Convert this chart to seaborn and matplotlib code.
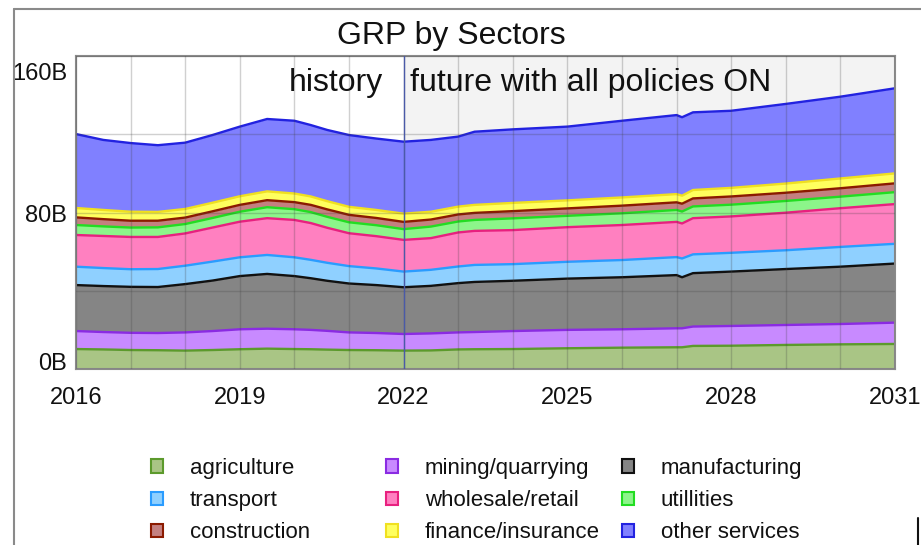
import matplotlib
matplotlib.use('Agg')
import matplotlib.pyplot as plt
import seaborn as sns
import numpy as np
import pandas as pd
from matplotlib.patches import Patch
from matplotlib.lines import Line2D
from matplotlib.transforms import ScaledTranslation
from matplotlib import font_manager

# ---------------- data (billions) ----------------
years = [2016, 2016.5, 2017, 2017.5, 2018, 2018.5, 2019, 2019.5, 2020, 2020.3, 2020.6,
         2021, 2021.5, 2022, 2022.5, 2023, 2023.3, 2024, 2025, 2026, 2027, 2027.1,
         2027.3, 2028, 2029, 2030, 2031]

agriculture = [10.2, 10.0, 9.7, 9.6, 9.4, 9.7, 10.1, 10.4, 10.2, 10.1, 9.9, 9.7, 9.6, 9.4,
               9.5, 10.0, 10.1, 10.2, 10.6, 10.9, 11.1, 11.1, 11.8, 11.9, 12.3, 12.6, 12.8]
mining = [9.2, 8.9, 8.8, 8.8, 9.3, 9.7, 10.2, 10.2, 10.1, 9.9, 9.6, 9.0, 8.8, 8.5,
          8.7, 8.7, 8.8, 9.2, 9.4, 9.4, 9.7, 9.7, 9.9, 10.1, 10.2, 10.4, 10.9]
manufacturing = [23.5, 23.5, 23.5, 23.5, 24.7, 25.8, 27.2, 28.0, 27.2, 26.4, 25.6, 25.0, 24.5,
                 23.9, 24.3, 25.2, 25.6, 25.7, 26.2, 26.6, 27.2, 26.1, 27.3, 27.8, 28.6, 29.3, 30.2]
transport = [9.4, 9.2, 9.0, 9.2, 9.4, 9.7, 9.6, 9.7, 9.6, 9.4, 9.2, 8.9, 8.5, 8.0,
             8.2, 8.5, 8.7, 8.5, 8.6, 8.8, 9.2, 9.6, 9.6, 9.6, 9.6, 10.1, 10.1]
wholesale = [16.2, 16.4, 16.5, 16.4, 16.5, 17.4, 18.2, 18.8, 19.1, 18.8, 17.9, 16.8, 16.5, 16.2,
             16.2, 17.4, 17.4, 17.4, 17.7, 17.9, 18.0, 17.9, 18.5, 18.6, 19.2, 19.8, 20.3]
utilities = [5.1, 4.9, 4.8, 4.9, 4.8, 4.9, 5.1, 5.6, 5.5, 5.6, 5.6, 5.6, 5.6, 5.5,
             5.9, 5.6, 5.6, 6.0, 5.8, 6.0, 6.1, 6.1, 6.0, 6.0, 6.0, 5.9, 6.1]
construction = [3.9, 3.7, 3.5, 3.4, 3.3, 3.4, 3.5, 3.6, 3.6, 3.7, 3.8, 3.8, 3.7, 3.7,
                3.6, 3.6, 3.6, 3.7, 3.8, 3.9, 3.9, 4.0, 4.1, 4.2, 4.2, 4.3, 4.5]
finance = [4.8, 4.7, 4.6, 4.5, 4.4, 4.4, 4.4, 4.5, 4.4, 4.3, 4.2, 4.1, 4.1, 4.2,
           4.0, 4.0, 4.1, 4.2, 4.1, 4.2, 4.2, 4.1, 4.3, 4.4, 4.7, 5.0, 5.1]
other_services = [37.8, 35.8, 35.1, 34.1, 33.9, 34.6, 35.6, 37.0, 37.2, 36.5, 36.4, 36.7, 36.5,
                  36.8, 36.7, 35.8, 37.4, 37.6, 37.7, 39.2, 40.4, 40.1, 39.7, 39.4, 40.7, 41.8, 43.5]

sector_names = ['agriculture', 'mining/quarrying', 'manufacturing', 'transport',
                'wholesale/retail', 'utillities', 'construction', 'finance/insurance',
                'other services']
series = [agriculture, mining, manufacturing, transport, wholesale, utilities,
          construction, finance, other_services]
fill_colors = ['#a9c585', '#c88aff', '#858585', '#8fd0ff', '#ff80c0', '#8cf58a',
               '#c48080', '#ffff5e', '#8080ff']
edge_colors = ['#5c9a2c', '#8a2be2', '#111111', '#2a9cff', '#e8207f', '#22dd22',
               '#8b1a00', '#f0e020', '#2222e0']

x_tick_years = [2016, 2019, 2022, 2025, 2028, 2031]
y_tick_values = [0, 40, 80, 120, 160]
y_tick_labels = ['0B', '', '80B', '', '160B']

# ---------------- fonts ----------------
def pick(names):
    for n in names:
        try:
            font_manager.findfont(font_manager.FontProperties(family=n), fallback_to_default=False)
            return n
        except Exception:
            pass
    return 'DejaVu Sans'

sns.set_theme(style='white')
REG = pick(['Liberation Sans', 'Arial', 'DejaVu Sans'])
plt.rcParams['font.family'] = [REG, 'DejaVu Sans']

W, H = 921, 545
fig = plt.figure(figsize=(W / 100, H / 100), dpi=100)
ax = fig.add_axes([76 / W, 1 - 369 / H, (895 - 76) / W, (369 - 56) / H])

# future background
ax.axvspan(2022, 2031, color='#f3f3f3', zorder=0, lw=0)

df = pd.DataFrame({name: vals for name, vals in zip(sector_names, series)})
df['year'] = years
ax.stackplot(df['year'], *[df[n] for n in sector_names], colors=fill_colors,
             linewidth=0, zorder=1)

cum = np.zeros(len(years))
for name, ec in zip(sector_names, edge_colors):
    cum = cum + df[name].values
    sns.lineplot(x=df['year'], y=cum, color=ec, lw=1.7, ax=ax, zorder=2)

ax.axvline(2022, color='#4a5aa8', lw=1.0, zorder=3)

ax.set_xlim(2016, 2031)
ax.set_ylim(0, 160)
ax.set_xlabel('')
ax.set_ylabel('')

ax.set_xticks(range(2016, 2032))
ax.set_xticklabels([str(y) if y in x_tick_years else '' for y in range(2016, 2032)])
ax.set_yticks(y_tick_values)
ax.set_yticklabels(y_tick_labels)
ax.tick_params(axis='both', length=0, labelsize=17, colors='#111111')
ax.tick_params(axis='x', pad=13)
ax.tick_params(axis='y', pad=6.5)
ylabs = ax.get_yticklabels()
shifts = {0: ('bottom', -6), 2: ('center', -4), 4: ('top', -7)}
for i, (va, dy) in shifts.items():
    ylabs[i].set_va(va)
    ylabs[i].set_transform(ylabs[i].get_transform() +
                           ScaledTranslation(0, dy / 100, fig.dpi_scale_trans))

ax.set_axisbelow(False)
ax.grid(True, color='#444444', alpha=0.25, lw=1.0)
for s in ax.spines.values():
    s.set_color('#8a8a8a')
    s.set_linewidth(1.5)

# annotations
ax.text(2021.62, 146.0, 'history', ha='right', va='center', fontsize=23, color='#111111')
ax.text(2022.12, 146.0, 'future with all policies ON', ha='left', va='center',
        fontsize=23, color='#111111')
fig.text(451 / W, 1 - 36 / H, 'GRP by Sectors', ha='center', va='center',
         fontsize=23, color='#111111')

# outer frame lines
fig.add_artist(Line2D([14 / W, 14 / W], [0, 1 - 9 / H], color='#8a8a8a', lw=1.5,
                      transform=fig.transFigure))
fig.add_artist(Line2D([14 / W, 1], [1 - 9 / H, 1 - 9 / H], color='#8a8a8a', lw=1.5,
                      transform=fig.transFigure))
fig.add_artist(Line2D([918 / W, 918 / W], [0, 1 - 518 / H], color='#111111', lw=1.5,
                      transform=fig.transFigure))

# legend: row-major in stack order, split into three columns
col_x = [151, 386, 622]
for c in range(3):
    idx = [c, c + 3, c + 6]
    handles = [Patch(facecolor=fill_colors[i], edgecolor=edge_colors[i], lw=1.5) for i in idx]
    labels = [sector_names[i] for i in idx]
    leg = fig.legend(handles, labels, loc='upper left',
                     bbox_to_anchor=(col_x[c] / W, 1 - 458 / H),
                     frameon=False, handlelength=0.55, handleheight=0.55,
                     handletextpad=1.2, labelspacing=0.5, borderpad=0, borderaxespad=0,
                     prop={'size': 16})
    for t in leg.get_texts():
        t.set_color('#111111')

fig.savefig('out.png', dpi=100)
